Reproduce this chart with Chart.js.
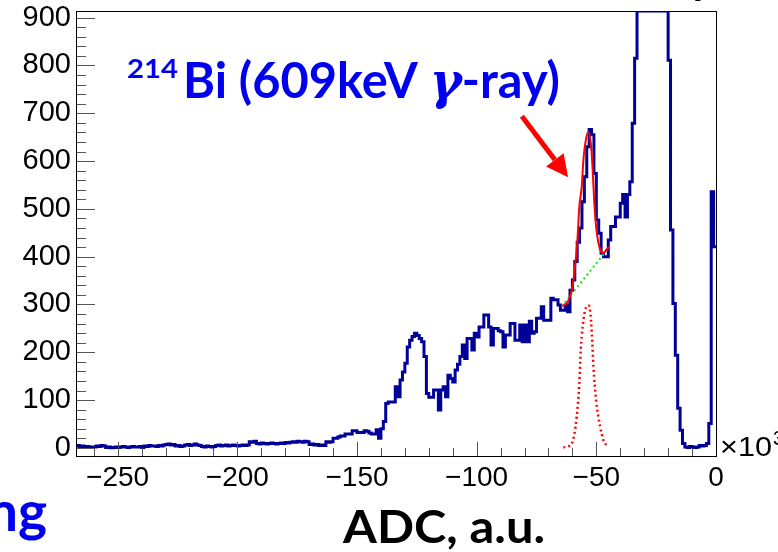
<!DOCTYPE html>
<html>
<head>
<meta charset="utf-8">
<title>ADC spectrum</title>
<script src="https://cdn.jsdelivr.net/npm/chart.js@4.4.1/dist/chart.umd.min.js"></script>
<style>
  html, body { margin: 0; padding: 0; background: #fff; }
  canvas { display: block; }
</style>
</head>
<body>
<canvas id="myChart" width="778" height="552"></canvas>
<script>
const ctx = document.querySelector("#myChart");

// histogram, one bin per ADC unit (x10^3); first bin starts at -268
const firstBin = -268;
// -268 .. -162
const countsFlat = [
  4, 5, 3, 4, 2, 3, 1, 2, 2, 4,
  3, 5, 4, 1, 2, 0, 1, 2, 1, 2,
  3, 2, 1, 2, 3, 2, 2, 3, 1, 4,
  3, 5, 4, 4, 3, 5, 4, 6, 7, 8,
  6, 7, 4, 5, 3, 4, 6, 7, 5, 6,
  8, 6, 5, 3, 2, 4, 3, 2, 3, 5,
  6, 4, 5, 6, 4, 5, 6, 5, 4, 5,
  6, 5, 6, 13, 12, 14, 9, 8, 10, 9,
  8, 9, 10, 9, 8, 9, 10, 9, 11, 10,
  12, 13, 12, 14, 13, 12, 14, 13, 7, 8,
  6, 7, 5, 6, 5, 13, 12,
];
// -161 .. -62
const countsBumps = [
  13, 20, 20, 23, 25, 25, 29, 29, 29, 36,
  36, 32, 32, 32, 36, 35, 31, 29, 29, 38,
  20, 40, 55, 93, 96, 96, 96, 128, 107, 142,
  159, 177, 211, 225, 233, 240, 235, 229, 222, 191,
  114, 106, 106, 121, 121, 79, 121, 128, 107, 152,
  145, 138, 163, 175, 191, 215, 187, 229, 229, 205,
  240, 232, 253, 253, 278, 278, 253, 215, 250, 250,
  245, 243, 211, 236, 236, 260, 260, 225, 225, 257,
  222, 257, 222, 265, 240, 243, 271, 271, 295, 267,
  267, 267, 313, 310, 310, 299, 288, 288, 299, 285,
];
// -61 .. -1 ; the pedestal peak runs off scale, those bins sit on the frame top (914)
const countsPeaks = [
  330, 351, 390, 430, 460, 515, 567, 630, 666, 655,
  574, 477, 449, 407, 400, 400, 435, 463, 463, 483,
  483, 512, 530, 483, 530, 557, 679, 815, 914, 914,
  914, 914, 914, 914, 914, 914, 914, 914, 914, 914,
  914, 811, 456, 302, 194, 83, 37, 9, 2, 1,
  3, 2, 1, 2, 5, 4, 5, 9, 51, 536, 421,
];

// gaus + pol1 fit on the 609 keV line, and its two parts
const fitX = [-64.4, -62.4, -60.3, -58.9, -57.9, -57.1, -56.1, -55.4, -54.4, -53.3, -52.3, -51.6, -50.9, -50.1, -49.1, -48.0, -47.0, -45.9, -44.5];
const fitY = [297, 302, 330, 379, 435, 505, 546, 602, 644, 661, 637, 588, 518, 463, 428, 410, 407, 414, 421];
const gausX = [-63.8, -60.3, -58.2, -57.1, -56.5, -55.7, -54.7, -53.3, -52.6, -51.9, -51.2, -50.1, -48.4, -47.0, -45.0];
const gausY = [1, 9, 65, 135, 205, 254, 288, 298, 288, 240, 170, 100, 44, 16, 2];
const bkgX = [-64.5, -45.0];
const bkgY = [296, 417];

const xTicks = [-250, -200, -150, -100, -50, 0];
const yTicks = [0, 100, 200, 300, 400, 500, 600, 700, 800, 900];

const counts = [...countsFlat, ...countsBumps, ...countsPeaks];
const histPoints = counts.map((v, i) => ({ x: firstBin + i, y: v }));
histPoints.push({ x: firstBin + counts.length, y: counts[counts.length - 1] });

function toPoints(xs, ys) {
  return xs.map((x, i) => ({ x: x, y: ys[i] }));
}

function fmt(v) {
  return v < 0 ? "\u2212" + Math.abs(v) : String(v);
}

// ROOT style frame with inward ticks
const frameTicks = {
  id: "frameTicks",
  afterDatasetsDraw(chart) {
    const c = chart.ctx;
    const a = chart.chartArea;
    const sx = chart.scales.x;
    const sy = chart.scales.y;
    c.save();
    c.strokeStyle = "#555";
    c.lineWidth = 1;
    c.beginPath();
    for (let v = -260; v <= 0; v += 10) {
      const px = Math.round(sx.getPixelForValue(v)) + 0.5;
      const len = v % 50 === 0 ? 14 : 8;
      c.moveTo(px, a.bottom);
      c.lineTo(px, a.bottom - len);
    }
    for (let v = 0; v <= 900; v += 20) {
      const py = Math.round(sy.getPixelForValue(v)) + 0.5;
      const len = v % 100 === 0 ? 19 : 10;
      c.moveTo(a.left, py);
      c.lineTo(a.left + len, py);
    }
    c.stroke();
    c.strokeStyle = "#000";
    c.strokeRect(a.left + 0.5, a.top + 0.5, a.right - a.left, a.bottom - a.top);
    c.restore();
  },
};

// draw a run of text pieces squeezed to span x0..x1
function drawRun(c, pieces, x0, x1, baseline, color) {
  let total = 0;
  pieces.forEach((p) => {
    c.font = p.font;
    p.w = c.measureText(p.text).width;
    total += p.w;
  });
  c.save();
  c.translate(x0, baseline);
  c.scale((x1 - x0) / total, 1);
  c.fillStyle = color;
  c.textBaseline = "alphabetic";
  c.textAlign = "left";
  let x = 0;
  pieces.forEach((p) => {
    c.font = p.font;
    c.fillText(p.text, x, 0);
    x += p.w;
  });
  c.restore();
}

const labels = {
  id: "labels",
  afterDraw(chart) {
    const c = chart.ctx;
    const sx = chart.scales.x;
    const sy = chart.scales.y;
    const blue = "#0000ee";

    // 214Bi (609keV gamma-ray)
    drawRun(c, [{ text: "214", font: "bold 27px Lato" }], 127, 178, 78, blue);
    drawRun(c, [
      { text: "Bi (609keV ", font: "bold 50px Lato" },
      { text: "\u03b3", font: "bold italic 50px 'DejaVu Serif'" },
      { text: "-ray)", font: "bold 50px Lato" },
    ], 183, 560, 98, blue);

    // red arrow pointing at the peak
    const x0 = sx.getPixelForValue(-81.1), y0 = sy.getPixelForValue(694);
    const x1 = sx.getPixelForValue(-61.8), y1 = sy.getPixelForValue(566);
    const ang = Math.atan2(y1 - y0, x1 - x0);
    const head = 22;
    c.save();
    c.strokeStyle = "#ff0000";
    c.fillStyle = "#ff0000";
    c.lineWidth = 5;
    c.beginPath();
    c.moveTo(x0, y0);
    c.lineTo(x1 - head * Math.cos(ang), y1 - head * Math.sin(ang));
    c.stroke();
    c.beginPath();
    c.moveTo(x1, y1);
    c.lineTo(x1 - head * Math.cos(ang) + 11 * Math.sin(ang), y1 - head * Math.sin(ang) - 11 * Math.cos(ang));
    c.lineTo(x1 - head * Math.cos(ang) - 11 * Math.sin(ang), y1 - head * Math.sin(ang) + 11 * Math.cos(ang));
    c.closePath();
    c.fill();
    c.restore();

    // axis exponent, cut by the right edge like in the slide
    drawRun(c, [{ text: "\u00d710", font: "28px 'Liberation Sans'" }], 720, 772, 456, "#000");
    c.save();
    c.fillStyle = "#000";
    c.font = "20px 'Liberation Sans'";
    c.textAlign = "left";
    c.fillText("3", 773, 445);
    c.restore();

    // axis title
    drawRun(c, [{ text: "ADC, a.u.", font: "bold 46px Lato" }], 343, 545, 543, "#000");

    // bits of the slide text around the plot
    c.save();
    c.fillStyle = blue;
    c.font = "bold 55px Lato";
    c.textAlign = "right";
    c.fillText("ng", 47, 531);
    c.fillStyle = "#000";
    c.font = "bold 44px Lato";
    c.textAlign = "left";
    c.fillText("y", 690, -6);
    c.restore();
  },
};

const tickFont = { family: "'Liberation Sans', Arial, sans-serif" };

new Chart(ctx, {
  type: "line",
  data: {
    datasets: [
      {
        label: "fit",
        data: toPoints(fitX, fitY),
        borderColor: "#ff0000",
        borderWidth: 2,
        cubicInterpolationMode: "monotone",
        pointRadius: 0,
      },
      {
        label: "gaus",
        data: toPoints(gausX, gausY),
        borderColor: "#ff0000",
        borderWidth: 2.5,
        borderDash: [2, 3],
        cubicInterpolationMode: "monotone",
        pointRadius: 0,
      },
      {
        label: "background",
        data: toPoints(bkgX, bkgY),
        borderColor: "#22dd22",
        borderWidth: 2,
        borderDash: [2, 3],
        pointRadius: 0,
      },
      {
        label: "ADC",
        data: histPoints,
        borderColor: "#000099",
        borderWidth: 3,
        stepped: true,
        pointRadius: 0,
        fill: false,
      },
    ],
  },
  options: {
    responsive: false,
    animation: false,
    events: [],
    layout: { padding: { top: 11, right: 62, left: 0, bottom: 0 } },
    plugins: {
      legend: { display: false },
      tooltip: { enabled: false },
    },
    scales: {
      x: {
        type: "linear",
        min: -267.4,
        max: 0,
        grid: { display: false, drawTicks: false },
        border: { display: false },
        afterBuildTicks: (s) => {
          s.ticks = xTicks.map((v) => ({ value: v }));
        },
        afterFit: (s) => {
          s.height = 96;
          s.paddingLeft = 0;
          s.paddingRight = 0;
        },
        ticks: {
          font: { ...tickFont, size: 28 },
          color: "#000",
          padding: 5,
          maxRotation: 0,
          autoSkip: false,
          callback: (v) => fmt(v),
        },
      },
      y: {
        type: "linear",
        min: -17,
        max: 914,
        grid: { display: false, drawTicks: false },
        border: { display: false },
        afterBuildTicks: (s) => {
          s.ticks = yTicks.map((v) => ({ value: v }));
        },
        afterFit: (s) => {
          s.width = 76;
          s.paddingTop = 0;
          s.paddingBottom = 0;
        },
        ticks: {
          font: { ...tickFont, size: 29 },
          color: "#000",
          padding: 5,
          autoSkip: false,
          callback: (v) => String(v),
        },
      },
    },
  },
  plugins: [frameTicks, labels],
});
</script>
</body>
</html>
